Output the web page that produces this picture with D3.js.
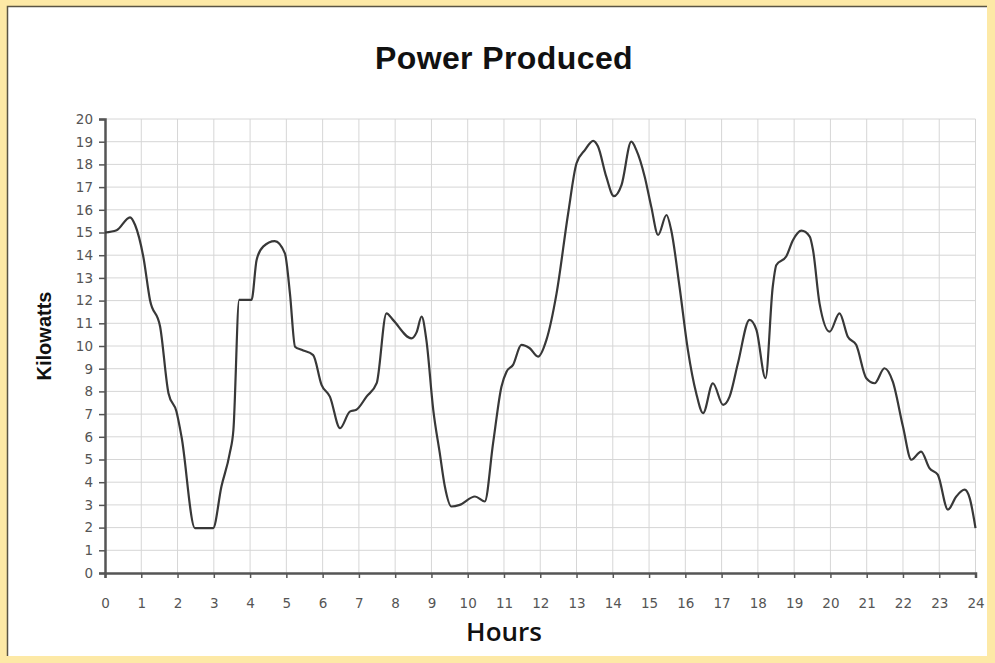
<!DOCTYPE html>
<html lang="en">
<head>
    <meta charset="UTF-8">
    <title>Power Produced</title>
    <script src="https://d3js.org/d3.v7.min.js"></script>
    <style>
        html, body { margin: 0; padding: 0; background: #fde9a6; }
        svg { display: block; }
        .tick text { font-family: "DejaVu Sans", Verdana, sans-serif; font-size: 13.5px; fill: #555; }
    </style>
</head>
<body>
<div id="chart"></div>
<script>
    // hours and kW
    const hours = [0, 0.32, 0.69, 0.83, 1.06, 1.24, 1.52, 1.75, 1.97, 2.11, 2.48, 2.98, 3.21, 3.44, 3.54, 3.7, 4.04,
        4.18, 4.36, 4.68, 4.96, 5.1, 5.24, 5.42, 5.74, 5.97, 6.2, 6.48, 6.75, 6.93, 7.21, 7.49, 7.76, 7.94, 8.45,
        8.59, 8.73, 8.86, 9.05, 9.23, 9.37, 9.55, 9.78, 10.2, 10.47, 10.7, 10.93, 11.07, 11.25, 11.48, 11.71, 11.94,
        12.17, 12.45, 12.77, 13.0, 13.23, 13.46, 13.59, 13.82, 14.03, 14.24, 14.51, 14.65, 14.88, 15.06, 15.25,
        15.48, 15.61, 15.84, 16.07, 16.3, 16.49, 16.76, 17.04, 17.22, 17.45, 17.77, 17.96, 18.21, 18.41, 18.51,
        18.78, 18.97, 19.2, 19.43, 19.52, 19.7, 19.98, 20.25, 20.48, 20.71, 20.99, 21.22, 21.49, 21.72, 22.0,
        22.23, 22.5, 22.73, 22.96, 23.24, 23.47, 23.7, 23.84, 24.0];
    const kilowatts = [15.0, 15.1, 15.67, 15.33, 13.9, 12.03, 10.85, 7.92, 7.11, 6.0, 1.98, 1.98, 3.81, 5.28, 6.3, 12.03, 12.03,
        13.79, 14.38, 14.62, 14.08, 12.3, 9.97, 9.83, 9.6, 8.29, 7.77, 6.38, 7.11, 7.19, 7.77, 8.36, 11.44, 11.15, 10.34,
        10.6, 11.3, 10.27, 7.19, 5.28, 3.81, 2.93, 3.0, 3.37, 3.15, 5.72, 8.21, 8.87, 9.17, 10.05, 9.9, 9.53,
        10.27, 12.32, 15.85, 18.05, 18.63, 19.04, 18.8, 17.46, 16.6, 17.09, 19.0, 18.63, 17.46, 16.14, 14.89,
        15.77, 15.11, 12.61, 9.83, 7.92, 7.04, 8.36, 7.41, 7.77, 9.24, 11.15, 10.71, 8.58, 12.61, 13.57,
        13.94, 14.67, 15.08, 14.82, 14.23, 11.88, 10.63, 11.44, 10.41, 10.05, 8.58, 8.36, 9.02, 8.43, 6.45,
        4.99, 5.35, 4.62, 4.33, 2.79, 3.37, 3.67, 3.3, 1.98];
    const hourTicks = d3.range(0, 25);
    const kwTicks = d3.range(0, 21);

    const width = 995, height = 663;
    const margin = {top: 119, right: 19, bottom: 90, left: 105};

    const svg = d3.select("#chart").append("svg")
        .attr("width", width)
        .attr("height", height);

    // white panel with dark top/left edge
    svg.append("rect")
        .attr("x", 8).attr("y", 7)
        .attr("width", 979).attr("height", 649)
        .attr("fill", "#fff");
    svg.append("path")
        .attr("d", "M7.5,656V6.5H987")
        .attr("fill", "none")
        .attr("stroke", "#5a5443")
        .attr("stroke-width", 1.5);

    const x = d3.scaleLinear().domain([0, 24]).range([margin.left, width - margin.right - 0.5]);
    const y = d3.scaleLinear().domain([0, 20]).range([height - margin.bottom, margin.top]);

    // grid
    const grid = svg.append("g");
    grid.selectAll(".hg").data(kwTicks.slice(1)).enter().append("line")
        .attr("x1", x(0)).attr("x2", x(24))
        .attr("y1", d => y(d)).attr("y2", d => y(d))
        .attr("stroke", "#d6d6d6");
    grid.selectAll(".vg").data(hourTicks.slice(1)).enter().append("line")
        .attr("x1", d => x(d)).attr("x2", d => x(d))
        .attr("y1", y(0)).attr("y2", y(20))
        .attr("stroke", "#d6d6d6");

    // axes
    const xAxis = svg.append("g")
        .attr("transform", `translate(0,${y(0)})`)
        .call(d3.axisBottom(x).tickValues(hourTicks).tickSize(5).tickPadding(20).tickFormat(d3.format("d")));
    const yAxis = svg.append("g")
        .attr("transform", `translate(${x(0)},0)`)
        .call(d3.axisLeft(y).tickValues(kwTicks).tickSize(6).tickPadding(6).tickFormat(d3.format("d")));
    [xAxis, yAxis].forEach(a => {
        a.select(".domain").attr("stroke", "#555").attr("stroke-width", 2.5);
        a.selectAll(".tick line").attr("stroke", "#555").attr("stroke-width", 1.5);
    });

    // line
    const line = d3.line()
        .x((d, i) => x(hours[i]))
        .y(d => y(d))
        .curve(d3.curveMonotoneX);
    svg.append("path")
        .datum(kilowatts)
        .attr("d", line)
        .attr("fill", "none")
        .attr("stroke", "#383838")
        .attr("stroke-width", 2.2);

    // titles
    svg.append("text")
        .attr("x", 504).attr("y", 69)
        .attr("text-anchor", "middle")
        .style("font-family", "'Liberation Sans', Arial, sans-serif")
        .style("font-weight", "bold")
        .style("font-size", "32px")
        .style("letter-spacing", "0.4px")
        .attr("fill", "#111")
        .text("Power Produced");
    svg.append("text")
        .attr("transform", "translate(51,336) rotate(-90)")
        .attr("text-anchor", "middle")
        .style("font-family", "'Liberation Sans', Arial, sans-serif")
        .style("font-weight", "bold")
        .style("font-size", "20px")
        .attr("fill", "#111")
        .text("Kilowatts");
    svg.append("text")
        .attr("x", 504).attr("y", 641)
        .attr("text-anchor", "middle")
        .style("font-family", "'Open Sans', sans-serif")
        .style("font-weight", "600")
        .style("font-size", "26px")
        .attr("fill", "#111")
        .text("Hours");
</script>
</body>
</html>
